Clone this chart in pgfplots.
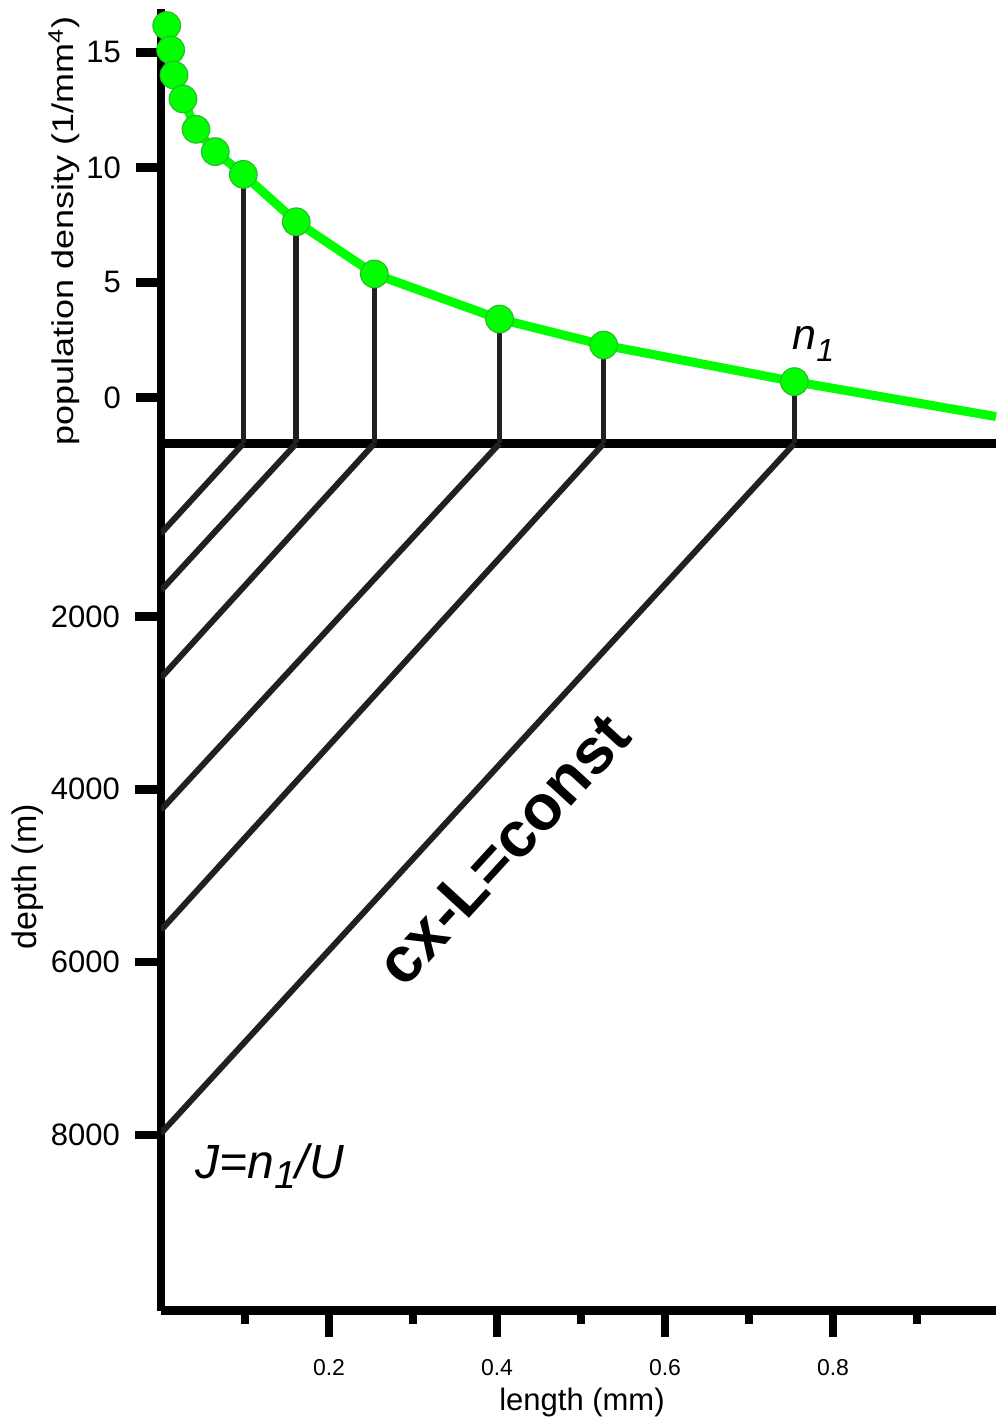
\documentclass[border=0pt]{standalone}
\usepackage{fontspec}
\setmainfont{Liberation Sans}
\usepackage{pgfplots}
\pgfplotsset{compat=1.18}

\definecolor{lime}{RGB}{0,255,0}
\definecolor{limeedge}{RGB}{40,190,40}
\definecolor{ink}{RGB}{35,31,32}

\pgfplotsset{
  common/.style={
    scale only axis, width=417.5pt,
    xmin=0, xmax=0.994,
    axis x line=bottom, axis y line=left,
    axis line style={-, line width=4.25pt, black},
    every outer x axis line/.append style={-},
    every outer y axis line/.append style={-},
    tick align=outside,
    every tick/.style={black, line width=4.25pt},
    /pgf/number format/assume math mode=true,
    yticklabel style={font=\fontsize{15.5}{18}\selectfont, xshift=-4pt},
    xticklabel style={font=\fontsize{11.5}{14}\selectfont, yshift=-8pt},
  },
}

\begin{document}
\begin{tikzpicture}
\useasboundingbox (-80.5pt,-53.75pt) rectangle (417.5pt,655.25pt);

% upper panel: population density along the length axis
\begin{axis}[common,
  at={(0pt,433.5pt)}, anchor=south west,
  height=217.35pt,
  ymin=-2, ymax=16.9,
  xtick=\empty,
  ytick={0,5,10,15},
  major tick length=12.5pt,
  clip=false,
]
\addplot[lime, line width=4.5pt, mark=*, mark size=6.9pt,
  mark options={fill=lime, draw=limeedge, line width=0.6pt}]
  coordinates {
  (0.0068,16.17) (0.0115,15.11) (0.0155,14.02) (0.0262,12.98)
  (0.0417,11.66) (0.0646,10.69) (0.098,9.70) (0.161,7.64)
  (0.254,5.37) (0.403,3.41) (0.527,2.28) (0.754,0.69)
  };
\addplot[lime, line width=4.5pt] coordinates {(0.754,0.69) (0.994,-0.83)};
% vertical drops from the sampled points
\addplot[ink, line width=2.8pt, unbounded coords=jump] coordinates {
  (0.098,-2) (0.098,9.70) (0.098,nan)
  (0.161,-2) (0.161,7.64) (0.161,nan)
  (0.254,-2) (0.254,5.37) (0.254,nan)
  (0.403,-2) (0.403,3.41) (0.403,nan)
  (0.527,-2) (0.527,2.28) (0.527,nan)
  (0.754,-2) (0.754,0.69)
  };
\end{axis}

% lower panel: depth along the length axis
\begin{axis}[common,
  at={(0pt,0pt)}, anchor=south west,
  height=433.5pt,
  ymin=0, ymax=10030, y dir=reverse,
  xtick={0.2,0.4,0.6,0.8},
  minor xtick={0.1,0.3,0.5,0.7,0.9},
  ytick={2000,4000,6000,8000},
  scaled y ticks=false,
  /pgf/number format/1000 sep={},
  major tick length=13pt,
  minor tick length=6.9pt,
]
\addplot[ink, line width=3pt, unbounded coords=jump] coordinates {
  (0.098,0) (0,1040) (0,nan)
  (0.161,0) (0,1700) (0,nan)
  (0.254,0) (0,2710) (0,nan)
  (0.403,0) (0,4240) (0,nan)
  (0.527,0) (0,5630) (0,nan)
  (0.754,0) (0,7980)
  };
\end{axis}

% axis titles and annotations
\node[rotate=90, xscale=1.2, font=\fontsize{15}{18}\selectfont] at (-48.5pt,539.75pt)
  {population density (1/mm\textsuperscript{4})};
\node[rotate=90, font=\fontsize{17}{20}\selectfont] at (-66.5pt,216.75pt)
  {depth (m)};
\node[font=\fontsize{15.5}{18}\selectfont] at (210.5pt,-45.75pt) {length (mm)};

\node[anchor=base west, inner sep=0pt, font=\fontsize{21.5}{24}\selectfont\itshape]
  at (315.5pt,480.25pt) {n\raisebox{-6pt}{\fontsize{16}{18}\selectfont 1}};
\node[anchor=base west, inner sep=0pt, font=\fontsize{24}{28}\selectfont\itshape]
  at (17pt,65.75pt) {J=n\raisebox{-5pt}{\fontsize{19.5}{22}\selectfont 1}/U};
\node[rotate=47.5, font=\fontsize{32}{36}\selectfont\bfseries]
  at (171pt,230.5pt) {cx-L=const};
\end{tikzpicture}
\end{document}
